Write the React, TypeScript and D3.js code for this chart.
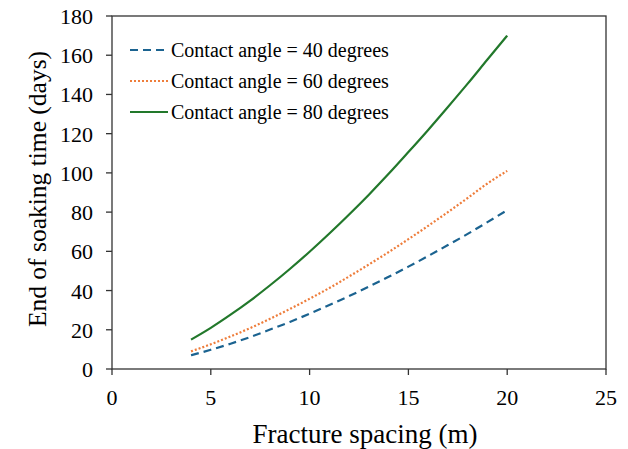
import React from "react";
import * as d3 from "d3";

const xValues = [4, 5, 6, 7, 8, 9, 10, 11, 12, 13, 14, 15, 16, 17, 18, 19, 20];
const angle40 = [7, 9.8, 12.9, 16.3, 20.1, 24.0, 28.2, 32.6, 37.2, 42.0, 47.0, 52.2, 57.6, 63.2, 68.9, 74.9, 81];
const angle60 = [9, 12.6, 16.6, 20.9, 25.6, 30.6, 35.8, 41.3, 47.2, 53.3, 59.6, 66.2, 73.0, 80.0, 87.2, 94.6, 101];
const angle80 = [15, 21.0, 27.7, 34.9, 42.7, 51.0, 59.8, 69.1, 78.8, 88.9, 99.5, 110.6, 121.9, 133.6, 145.5, 157.8, 170];
const seriesNames = ["Contact angle = 40 degrees", "Contact angle = 60 degrees", "Contact angle = 80 degrees"];
const xTicks = [0, 5, 10, 15, 20, 25];
const yTicks = [0, 20, 40, 60, 80, 100, 120, 140, 160, 180];

const W = 628, H = 449;
const left = 112, right = 606, top = 16, bottom = 369;
const font = "'Liberation Serif', 'Times New Roman', serif";

export default function App() {
  const x = d3.scaleLinear().domain([0, 25]).range([left, right]);
  const y = d3.scaleLinear().domain([0, 180]).range([bottom, top]);
  const line = d3.line<number>().x((_, i) => x(xValues[i])).y((d) => y(d)).curve(d3.curveMonotoneX);
  const series = [
    { data: angle40, color: "#1b6390", dash: "8,5" },
    { data: angle60, color: "#ee7d3b", dash: "2,2" },
    { data: angle80, color: "#22782b", dash: "" },
  ];
  const axisColor = "#333";
  return (
    <svg width={W} height={H} style={{ position: "absolute", left: 0, top: 0 }}>
      <rect x={0} y={0} width={W} height={H} fill="#fff" />
      <rect x={left} y={top} width={right - left} height={bottom - top} fill="none" stroke={axisColor} strokeWidth={1.3} />
      {xTicks.map((t) => (
        <g key={"x" + t}>
          <line x1={x(t)} x2={x(t)} y1={bottom} y2={bottom + 6} stroke={axisColor} strokeWidth={1.3} />
          <text x={x(t)} y={405} textAnchor="middle" fontFamily={font} fontSize={22} fill="#000">{t}</text>
        </g>
      ))}
      {yTicks.map((t) => (
        <g key={"y" + t}>
          <line x1={left - 6} x2={left} y1={y(t)} y2={y(t)} stroke={axisColor} strokeWidth={1.3} />
          <text x={93} y={y(t) + 8} textAnchor="end" fontFamily={font} fontSize={22} fill="#000">{t}</text>
        </g>
      ))}
      {series.map((s, i) => (
        <path key={i} d={line(s.data) || ""} fill="none" stroke={s.color} strokeWidth={2.2} strokeDasharray={s.dash || undefined} />
      ))}
      {series.map((s, i) => (
        <g key={"l" + i}>
          <line x1={130} x2={168} y1={50 + i * 31} y2={50 + i * 31} stroke={s.color} strokeWidth={2.2} strokeDasharray={s.dash || undefined} />
          <text x={171} y={57 + i * 31} fontFamily={font} fontSize={20} fill="#000">{seriesNames[i]}</text>
        </g>
      ))}
      <text x={365} y={443} textAnchor="middle" fontFamily={font} fontSize={27} fill="#000">Fracture spacing (m)</text>
      <text transform={`translate(46,189) rotate(-90)`} textAnchor="middle" fontFamily={font} fontSize={25.5} fill="#000">End of soaking time (days)</text>
    </svg>
  );
}
